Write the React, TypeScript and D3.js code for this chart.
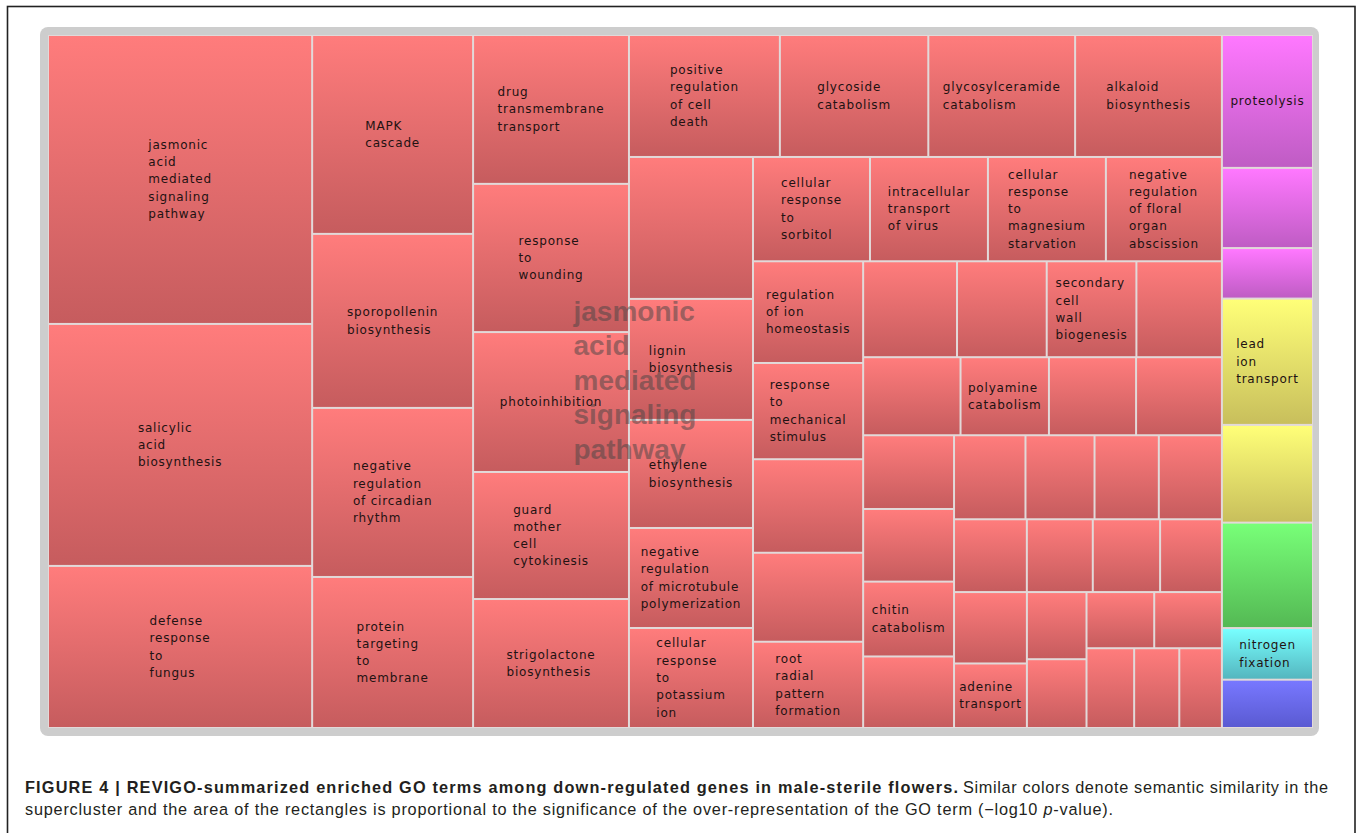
import React, { useMemo } from 'react';
import * as d3 from 'd3';

// GO terms, value = relative significance (area).
// Empty names are terms whose label is not printed in the figure.
const colJasmonic = [
  ['jasmonic acid mediated signaling pathway', 76.3],
  ['salicylic acid biosynthesis', 63.9],
  ['defense response to fungus', 42.8],
];
const colMapk = [
  ['MAPK cascade', 32.0],
  ['sporopollenin biosynthesis', 28.0],
  ['negative regulation of circadian rhythm', 27.2],
  ['protein targeting to membrane', 24.3],
];
const colDrug = [
  ['drug transmembrane transport', 23.2],
  ['response to wounding', 23.1],
  ['photoinhibition', 21.8],
  ['guard mother cell cytokinesis', 19.8],
  ['strigolactone biosynthesis', 20.1],
];
const rowCellDeath = [
  ['positive regulation of cell death', 18.4],
  ['glycoside catabolism', 18.1],
  ['glycosylceramide catabolism', 17.9],
  ['alkaloid biosynthesis', 17.9],
];
const colLignin = [
  ['', 17.6],
  ['lignin biosynthesis', 15.0],
  ['ethylene biosynthesis', 13.4],
  ['negative regulation of microtubule polymerization', 12.4],
  ['cellular response to potassium ion', 12.4],
];
const rowSorbitol = [
  ['cellular response to sorbitol', 12.2],
  ['intracellular transport of virus', 12.3],
  ['cellular response to magnesium starvation', 12.3],
  ['negative regulation of floral organ abscission', 12.1],
];
const colIon = [
  ['regulation of ion homeostasis', 11.2],
  ['response to mechanical stimulus', 10.6],
  ['', 10.3],
  ['', 9.8],
  ['root radial pattern formation', 9.5],
];
const rowSecondary = [['', 9.0], ['', 8.6], ['secondary cell wall biogenesis', 8.6], ['', 8.2]];
const rowPolyamine = [['', 7.6], ['polyamine catabolism', 6.9], ['', 6.8], ['', 6.7]];
const colChitin = [['', 6.7], ['', 6.6], ['chitin catabolism', 6.8], ['', 6.5]];
const rowSmallA = [['', 6.0], ['', 5.8], ['', 5.4], ['', 5.3]];
const rowSmallB = [['', 5.3], ['', 4.8], ['', 4.9], ['', 4.5]];
const colAdenine = [['', 5.2], ['adenine transport', 4.7]];
const colSmallC = [['', 4.0], ['', 4.1]];
const rowSmallD = [['', 3.8], ['', 3.8]];
const rowSmallE = [['', 3.8], ['', 3.6], ['', 3.4]];
// other superclusters: [term, value, cluster]
const colOther = [
  ['proteolysis', 12.1, 'magenta'],
  ['', 7.3, 'magenta'],
  ['', 4.6, 'magenta'],
  ['lead ion transport', 11.5, 'yellow'],
  ['', 8.9, 'yellow'],
  ['', 9.6, 'green'],
  ['nitrogen fixation', 4.7, 'cyan'],
  ['', 4.4, 'blue'],
];
const superLabel = 'jasmonic acid mediated signaling pathway';

const clusterColors: Record<string, [string, string]> = {
  red: ['#ff7c7c', '#c65c5e'],
  magenta: ['#ff78ff', '#bf5cc4'],
  yellow: ['#ffff78', '#c8bf5c'],
  green: ['#78ff78', '#54b954'],
  cyan: ['#78ffff', '#54b6bf'],
  blue: ['#7878ff', '#5a5ad2'],
};

const W = 1265, H = 693, OX = 48, OY = 35;

const leaves = (arr: any[]) => arr.map(([name, value, cluster]) => ({ name, value, cluster: cluster || 'red' }));
const row = (...children: any[]) => ({ dir: 'row', children });
const col = (...children: any[]) => ({ dir: 'col', children });

const tree = row(
  col(...leaves(colJasmonic)),
  col(...leaves(colMapk)),
  col(...leaves(colDrug)),
  col(
    row(...leaves(rowCellDeath)),
    row(
      col(...leaves(colLignin)),
      col(
        row(...leaves(rowSorbitol)),
        row(
          col(...leaves(colIon)),
          col(
            row(...leaves(rowSecondary)),
            row(...leaves(rowPolyamine)),
            row(
              col(...leaves(colChitin)),
              col(
                row(...leaves(rowSmallA)),
                row(...leaves(rowSmallB)),
                row(
                  col(...leaves(colAdenine)),
                  col(...leaves(colSmallC)),
                  col(row(...leaves(rowSmallD)), row(...leaves(rowSmallE)))
                )
              )
            )
          )
        )
      )
    )
  ),
  col(...leaves(colOther))
);

// REVIGO keeps "of" together with the following word
const wrap = (name: string) => {
  const words = name.split(' ');
  const lines: string[] = [];
  for (let i = 0; i < words.length; i++) {
    if (words[i] === 'of' && i + 1 < words.length) { lines.push('of ' + words[i + 1]); i++; }
    else lines.push(words[i]);
  }
  return lines;
};

const ctx = document.createElement('canvas').getContext('2d')!;
const measure = (s: string, font: string, spacing = 0) => {
  ctx.font = font;
  return ctx.measureText(s).width + spacing * s.length;
};

const LABEL_FONT = '12px "DejaVu Sans"';
const LABEL_SP = 0.8;
const LH = 17.3;

export default function App() {
  const root = useMemo(() => {
    const h = d3.hierarchy<any>(tree).sum((d) => d.value || 0);
    d3.treemap<any>()
      .size([W, H])
      .tile((node: any, x0, y0, x1, y1) => {
        if (node.data.dir === 'row') d3.treemapDice(node, x0, y0, x1, y1);
        else d3.treemapSlice(node, x0, y0, x1, y1);
      })(h);
    return h as d3.HierarchyRectangularNode<any>;
  }, []);

  const cells = root.leaves();
  const red = cells.filter((c) => c.data.cluster === 'red');
  const rx0 = d3.min(red, (c) => c.x0)!, rx1 = d3.max(red, (c) => c.x1)!;
  const ry0 = d3.min(red, (c) => c.y0)!, ry1 = d3.max(red, (c) => c.y1)!;
  const bigLines = superLabel.split(' ');
  const bigFont = 'bold 28px "Liberation Sans"';
  const bigW = d3.max(bigLines, (l) => measure(l, bigFont))!;
  const bcx = (rx0 + rx1) / 2, bcy = (ry0 + ry1) / 2;

  return (
    <svg width={1360} height={833} style={{ position: 'absolute', left: 0, top: 0, background: '#fff' }}>
      <defs>
        {Object.entries(clusterColors).map(([k, [c0, c1]]) => (
          <linearGradient key={k} id={`g-${k}`} x1="0" y1="0" x2="0" y2="1">
            <stop offset="0" stopColor={c0} />
            <stop offset="1" stopColor={c1} />
          </linearGradient>
        ))}
      </defs>
      <rect x={7.5} y={6.5} width={1347.5} height={840} fill="none" stroke="#222" strokeWidth={1.6} />
      <rect x={40} y={27} width={1279} height={709} rx={8} fill="#cdcdcd" />
      <g transform={`translate(${OX},${OY})`}>
        <rect width={W} height={H} fill="#e2d9d9" />
        {cells.map((c, i) => (
          <rect key={i} x={c.x0 + 1} y={c.y0 + 1} width={Math.max(0, c.x1 - c.x0 - 2)} height={Math.max(0, c.y1 - c.y0 - 2)}
            fill={`url(#g-${c.data.cluster})`} />
        ))}
        <g fill="#444" fillOpacity={0.5} style={{ font: bigFont }}>
          {bigLines.map((l, i) => (
            <text key={i} x={bcx - bigW / 2} y={bcy + (i - (bigLines.length - 1) / 2) * 34.5 + 8}>{l}</text>
          ))}
        </g>
        <g fill="#221212" style={{ font: LABEL_FONT, letterSpacing: `${LABEL_SP}px` }}>
          {cells.filter((c) => c.data.name).map((c, i) => {
            const lines = wrap(c.data.name);
            const mw = d3.max(lines, (l) => measure(l, LABEL_FONT, LABEL_SP))!;
            const cx = (c.x0 + c.x1) / 2, cy = (c.y0 + c.y1) / 2;
            return lines.map((l, j) => (
              <text key={`${i}-${j}`} x={cx - mw / 2} y={cy + (j - (lines.length - 1) / 2) * LH + 4}>{l}</text>
            ));
          })}
        </g>
      </g>
      <g fill="#231f20" style={{ fontFamily: '"Liberation Sans", Arial, sans-serif', fontSize: '16.3px' }}>
        <text x={25} y={793} fontWeight="bold" textLength={933} lengthAdjust="spacing">
          FIGURE 4 | REVIGO-summarized enriched GO terms among down-regulated genes in male-sterile flowers.
        </text>
        <text x={963} y={793} textLength={365} lengthAdjust="spacing">
          Similar colors denote semantic similarity in the
        </text>
        <text x={25} y={815} textLength={1088} lengthAdjust="spacing">
          supercluster and the area of the rectangles is proportional to the significance of the over-representation of the GO term (−log10 <tspan fontStyle="italic">p</tspan>-value).
        </text>
      </g>
    </svg>
  );
}
